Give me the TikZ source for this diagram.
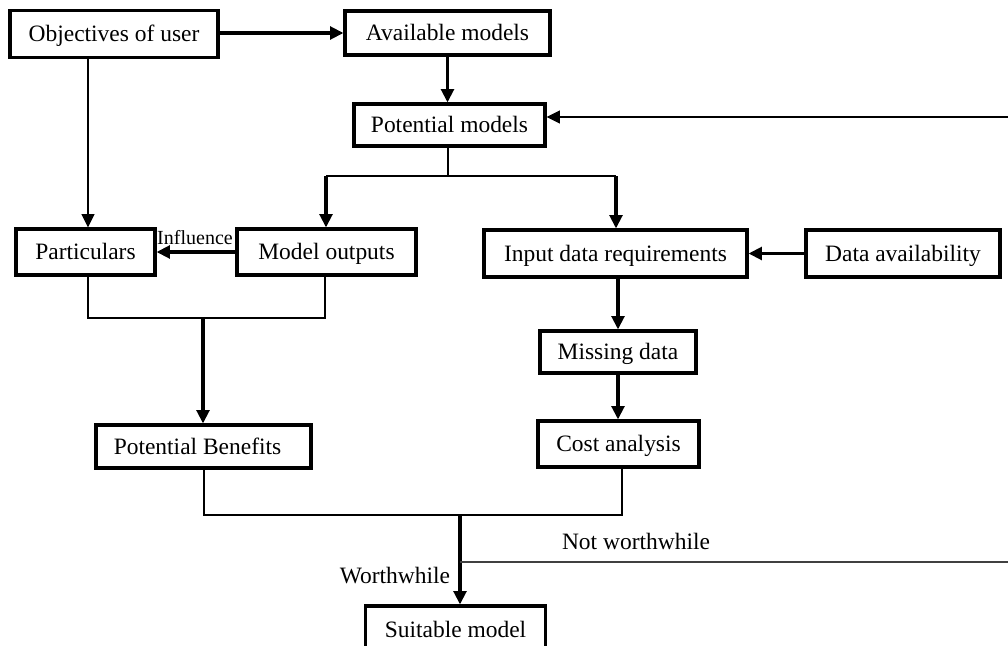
\documentclass[tikz,border=0pt]{standalone}
\usepackage{fontspec}
\setmainfont{Liberation Serif}
\usetikzlibrary{arrows.meta,calc}
\newdimen\pxu \pxu=0.75pt
\begin{document}
\begin{tikzpicture}[x=0.75pt,y=-0.75pt,
  box/.style={draw,line width=2.3pt,inner sep=0pt,text height=11.6pt,text depth=0pt,font=\fontsize{17.6}{20}\selectfont},
  tip/.tip={Triangle[length=10pt,width=9.5pt]},
  arr/.style={line width=2.4pt,-tip},
  medarr/.style={line width=1.6pt,-tip},
  thinln/.style={line width=1.1pt},
  midln/.style={line width=1.9pt},
  lbl/.style={inner sep=0pt,font=\fontsize{17.6}{20}\selectfont},
  smalllbl/.style={inner sep=0pt,font=\fontsize{15}{17}\selectfont}
]
\clip (0,0) rectangle (1008,646);
\fill[white] (0,0) rectangle (1008,646);

% boxes
\node[box,minimum width=208\pxu,minimum height=47\pxu] (obj) at (114,34) {Objectives of user};
\node[box,minimum width=205\pxu,minimum height=44\pxu] (avail) at (447.5,33) {Available models};
\node[box,minimum width=191\pxu,minimum height=42\pxu] (pot) at (449.5,125) {Potential models};
\node[box,minimum width=139\pxu,minimum height=46\pxu] (part) at (85.5,252) {Particulars};
\node[box,minimum width=179\pxu,minimum height=46\pxu] (mout) at (326.5,252) {Model outputs};
\node[box,minimum width=263\pxu,minimum height=47\pxu] (inp) at (615.5,253.5) {Input data requirements};
\node[box,minimum width=194\pxu,minimum height=47\pxu] (davail) at (903,253.5) {Data availability};
\node[box,minimum width=156\pxu,minimum height=42\pxu] (miss) at (618,352) {Missing data};
\node[box,minimum width=215\pxu,minimum height=43\pxu] (pb) at (203.5,446.5) {\hspace*{-12\pxu}Potential Benefits};
\node[box,minimum width=161\pxu,minimum height=46\pxu] (cost) at (618.5,444) {Cost analysis};
\node[box,minimum width=180\pxu,minimum height=48\pxu] (suit) at (455.5,630) {Suitable model};

% helper coordinates
\coordinate (xobj) at (88,0);
\coordinate (br1) at (448,176);
\coordinate (br1l) at (326,176);
\coordinate (br1r) at (616,176);
\coordinate (mg1) at (203,318);
\coordinate (mg1l) at (88,318);
\coordinate (mg1r) at (325,318);
\coordinate (mg2) at (460,515);
\coordinate (mg2l) at (204,515);
\coordinate (mg2r) at (622,515);
\coordinate (nw) at (460,562);
\coordinate (nwend) at (1010,562);
\coordinate (fbend) at (1010,117);

% top row
\draw[arr] (obj.east |- avail.west) -- (avail.west);
\draw[arr] (avail.south) -- (pot.north -| avail.south);
\draw[medarr] (fbend) -- (pot.east |- fbend);

% objectives to particulars
\draw[medarr] (obj.south -| xobj) -- (part.north -| xobj);

% branch from potential models
\draw[thinln] (pot.south -| br1) -- (br1);
\draw[midln] (br1l) -- (br1r);
\draw[arr] (br1l) -- (mout.north -| br1l);
\draw[arr] (br1r) -- (inp.north -| br1r);

% influence
\draw[arr] (mout.west) -- (part.east |- mout.west);
\node[smalllbl] (infl) at (195,238) {Influence};

% merge to potential benefits
\draw[thinln] (part.south -| mg1l) -- (mg1l) -- (mg1r) -- (mout.south -| mg1r);
\draw[arr] (mg1) -- (pb.north -| mg1);

% data chain
\draw[arr] (davail.west) -- (inp.east |- davail.west);
\draw[arr] (inp.south -| miss.north) -- (miss.north);
\draw[arr] (miss.south) -- (cost.north -| miss.south);

% merge to suitable model
\draw[midln] (pb.south -| mg2l) -- (mg2l) -- (mg2r) -- (cost.south -| mg2r);
\draw[arr] (mg2) -- (suit.north -| mg2);
\node[lbl] (worth) at (395,576) {Worthwhile};

% not worthwhile
\draw[line width=1.3pt,draw=black!75] (nw) -- (nwend);
\node[lbl] (notworth) at (636,541) {Not worthwhile};
\end{tikzpicture}
\end{document}
